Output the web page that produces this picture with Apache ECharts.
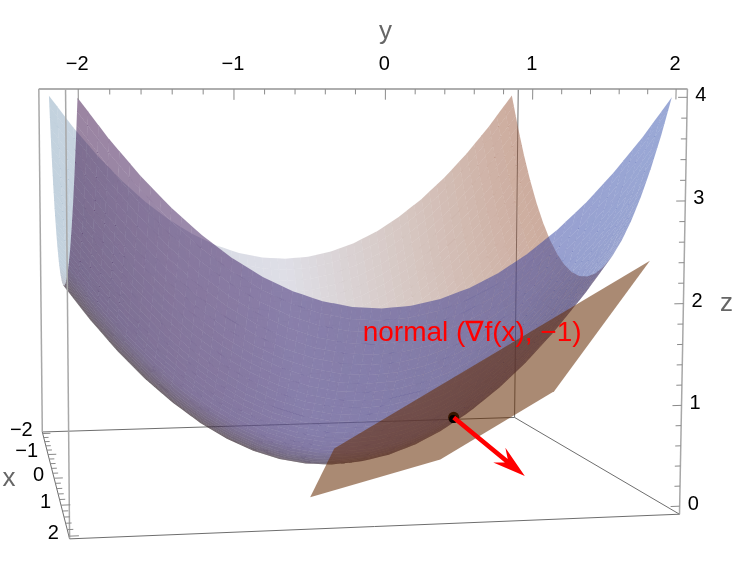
<!DOCTYPE html>
<html><head><meta charset="utf-8">
<style>html,body{margin:0;padding:0;background:#fff}#c{width:740px;height:564px}</style>
<script src="https://cdn.jsdelivr.net/npm/echarts@6/dist/echarts.min.js"></script>
</head><body><div id="c"></div>
<script>
// ---- data ----
const gridX = [-2,-1.8,-1.6,-1.4,-1.2,-1,-.8,-.6,-.4,-.2,0,.2,.4,.6,.8,1,1.2,1.4,1.6,1.8,2];
const gridY = gridX;
const r0  = [4,3.62,3.28,2.98,2.72,2.5,2.32,2.18,2.08,2.02,2,2.02,2.08,2.18,2.32,2.5,2.72,2.98,3.28,3.62,4];
const r1  = [3.62,3.24,2.9,2.6,2.34,2.12,1.94,1.8,1.7,1.64,1.62,1.64,1.7,1.8,1.94,2.12,2.34,2.6,2.9,3.24,3.62];
const r2  = [3.28,2.9,2.56,2.26,2,1.78,1.6,1.46,1.36,1.3,1.28,1.3,1.36,1.46,1.6,1.78,2,2.26,2.56,2.9,3.28];
const r3  = [2.98,2.6,2.26,1.96,1.7,1.48,1.3,1.16,1.06,1,.98,1,1.06,1.16,1.3,1.48,1.7,1.96,2.26,2.6,2.98];
const r4  = [2.72,2.34,2,1.7,1.44,1.22,1.04,.9,.8,.74,.72,.74,.8,.9,1.04,1.22,1.44,1.7,2,2.34,2.72];
const r5  = [2.5,2.12,1.78,1.48,1.22,1,.82,.68,.58,.52,.5,.52,.58,.68,.82,1,1.22,1.48,1.78,2.12,2.5];
const r6  = [2.32,1.94,1.6,1.3,1.04,.82,.64,.5,.4,.34,.32,.34,.4,.5,.64,.82,1.04,1.3,1.6,1.94,2.32];
const r7  = [2.18,1.8,1.46,1.16,.9,.68,.5,.36,.26,.2,.18,.2,.26,.36,.5,.68,.9,1.16,1.46,1.8,2.18];
const r8  = [2.08,1.7,1.36,1.06,.8,.58,.4,.26,.16,.1,.08,.1,.16,.26,.4,.58,.8,1.06,1.36,1.7,2.08];
const r9  = [2.02,1.64,1.3,1,.74,.52,.34,.2,.1,.04,.02,.04,.1,.2,.34,.52,.74,1,1.3,1.64,2.02];
const r10 = [2,1.62,1.28,.98,.72,.5,.32,.18,.08,.02,0,.02,.08,.18,.32,.5,.72,.98,1.28,1.62,2];
const surfaceZ = [r0,r1,r2,r3,r4,r5,r6,r7,r8,r9,r10,r9,r8,r7,r6,r5,r4,r3,r2,r1,r0];

const planeX = [1.9,1.9,-.3,-.3,.97];
const planeY = [-.3,1.9,1.9,.97,-.3];
const planeZ = [.64,2.4,.64,-.104,-.104];
const pointXYZ = [.8,.8,.64];
const arrowTip = [1.224,1.224,.11];

const xTicks = [-2,-1,0,1,2];
const yTicks = [-2,-1,0,1,2];
const zTicks = [0,1,2,3,4];
const tickLabels = {'-2':'\u22122','-1':'\u22121','0':'0','1':'1','2':'2','3':'3','4':'4'};
const minorStep = [0,.2,.4,.6,.8];
const noteText = 'normal (\u2207f(x), \u22121)';

// colours seen over white: rows at colorRowX; columns y=-2,-1,0,1,2
const colorRowX = [-2,-.6,.2,.8,2];
const innerLight = [[195,210,222],[215,220,230],[222,222,230],[215,200,195],[205,172,158]];
const innerShade = [[185,180,190],[195,185,190],[200,190,190],[195,175,170],[195,160,145]];
const innerColors = [innerLight,innerLight,innerShade,innerShade,innerShade];
const outerShade = [[140,128,132],[135,128,130],[132,128,135],[130,128,150],[135,135,165]];
const outerMid   = [[150,130,158],[150,135,170],[150,145,188],[145,150,195],[150,160,205]];
const outerRim   = [[155,133,162],[155,140,175],[152,150,195],[152,158,207],[155,170,215]];
const outerColors = [outerShade,outerShade,outerShade,outerMid,outerRim];
const surfaceAlpha = 0.5;
const planeFill = 'rgba(100,42,0,0.55)';

// ---- camera fitted to the box ----
const PAD = 2.08, camera = [15,-2.77,4.08];
function proj(x,y,z){
  const a=x/PAD,b=y/PAD,c=(z-2)/PAD;
  const w=1-.13263*a+.02468*b-.008505*c;
  return [(327.3+6*a+276.34*b-2.28*c)/w, 89+191.46*(1-c)/w];
}
function lerp(a,b,t){return a+(b-a)*t;}
function colorAt(tbl,x,y){
  let i=0; while(i<colorRowX.length-2&&x>colorRowX[i+1])i++;
  const s=Math.min(1,Math.max(0,(x-colorRowX[i])/(colorRowX[i+1]-colorRowX[i])));
  const v=Math.min(3.999,(y+2)),j=Math.floor(v),t=v-j,out=[];
  for(let k=0;k<3;k++){
    out.push(lerp(lerp(tbl[i][j][k],tbl[i][j+1][k],t),lerp(tbl[i+1][j][k],tbl[i+1][j+1][k],t),s));
  }
  return 'rgba('+out.map(c=>Math.max(0,Math.round((c-255*(1-surfaceAlpha))/surfaceAlpha))).join(',')+','+surfaceAlpha+')';
}
const SUB=3;
const innerCells=[],outerCells=[],cellFill={inner:[],outer:[]};
for(let i=0;i<gridX.length-1;i++)for(let j=0;j<gridY.length-1;j++){
  const dx=(gridX[i+1]-gridX[i])/SUB,dy=(gridY[j+1]-gridY[j])/SUB;
  const zAt=(s,t)=>lerp(lerp(surfaceZ[i][j],surfaceZ[i][j+1],t),lerp(surfaceZ[i+1][j],surfaceZ[i+1][j+1],t),s);
  for(let p=0;p<SUB;p++)for(let q=0;q<SUB;q++){
    const cs=[[p,q],[p+1,q],[p+1,q+1],[p,q+1]].map(([P,Q])=>{
      const X=gridX[i]+P*dx,Y=gridY[j]+Q*dy,Z=zAt(P/SUB,Q/SUB);
      return [X,Y,Z];
    });
    const cx=(cs[0][0]+cs[2][0])/2,cy=(cs[0][1]+cs[2][1])/2,cz=(cs[0][2]+cs[1][2]+cs[2][2]+cs[3][2])/4;
    const nx=((cs[1][2]+cs[2][2])-(cs[0][2]+cs[3][2]))/(2*dx);
    const ny=((cs[2][2]+cs[3][2])-(cs[0][2]+cs[1][2]))/(2*dy);
    const facing=nx*(camera[0]-cx)+ny*(camera[1]-cy)-(camera[2]-cz);
    const pts=cs.map(c=>proj(c[0],c[1],c[2]));
    const rec=[].concat(pts[0],pts[1],pts[2],pts[3]);
    if(facing>0){outerCells.push(rec);cellFill.outer.push(colorAt(outerColors,cx,cy));}
    else{innerCells.push(rec);cellFill.inner.push(colorAt(innerColors,cx,cy));}
  }
}
function cellSeries(data,fills,z){
  return {type:'custom',coordinateSystem:'cartesian2d',data,z,silent:true,animation:false,progressive:0,
    encode:{x:0,y:1},clip:false,
    renderItem(params,api){
      const P=[];for(let k=0;k<4;k++)P.push(api.coord([api.value(2*k),api.value(2*k+1)]));
      const mx=(P[0][0]+P[1][0]+P[2][0]+P[3][0])/4,my=(P[0][1]+P[1][1]+P[2][1]+P[3][1])/4;
      const G=0.03;
      const pts=P.map(p=>{const d=Math.hypot(p[0]-mx,p[1]-my)||1;return [p[0]+(p[0]-mx)/d*G,p[1]+(p[1]-my)/d*G];});
      return {type:'polygon',shape:{points:pts},style:{fill:fills[params.dataIndex],stroke:null}};
    }};
}
// ---- box and ticks ----
const L=PAD, B=2-PAD, T=2+PAD;
const backEdges=[[[-L,-L,B],[-L,L,B]],[[-L,L,B],[L,L,B]],[[-L,L,B],[-L,L,T]],[[-L,-L,B],[L,-L,B]]];
const lightEdges=[[[-L,-L,B],[-L,-L,T]],[[L,-L,B],[L,-L,T]],[[-L,-L,T],[L,-L,T]],[[L,-L,T],[L,L,T]],[[L,L,T],[L,L,B]],[[-L,L,T],[-L,-L,T]],[[-L,L,T],[L,L,T]]];
const frontEdges=[[[L,-L,B],[L,L,B]]];
function seg(a,b,w,col){const p=proj(a[0],a[1],a[2]),q=proj(b[0],b[1],b[2]);return [p[0],p[1],q[0],q[1],w,col];}
const backLines=backEdges.map(e=>seg(e[0],e[1],1,'#6e6e6e'));
const frontLines=lightEdges.map(e=>seg(e[0],e[1],1.5,'#a8a8a8')).concat(frontEdges.map(e=>seg(e[0],e[1],1,'#6e6e6e')));
yTicks.slice(0,4).forEach(t=>minorStep.forEach((m,k)=>frontLines.push(seg([L,t+m*1,T],[L,t+m*1,T-(k?.05:.1)],1,'#8a8a8a'))));
frontLines.push(seg([L,2,T],[L,2,T-.1],1,'#8a8a8a'));
xTicks.slice(0,4).forEach(t=>minorStep.forEach((m,k)=>frontLines.push(seg([t+m,-L,B],[t+m,-L+(k?.04:.065),B],1,'#8a8a8a'))));
frontLines.push(seg([2,-L,B],[2,-L+.065,B],1,'#8a8a8a'));
zTicks.slice(0,4).forEach(t=>minorStep.forEach((m,k)=>frontLines.push(seg([L,L,t+m],[L,L-(k?.04:.065),t+m],1,'#8a8a8a'))));
frontLines.push(seg([L,L,4],[L,L-.065,4],1,'#8a8a8a'));
function lineSeries(data,z){
  return {type:'custom',coordinateSystem:'cartesian2d',data,z,silent:true,animation:false,clip:false,encode:{x:0,y:1},
    renderItem(params,api){
      const a=api.coord([api.value(0),api.value(1)]),b=api.coord([api.value(2),api.value(3)]);
      const d=data[params.dataIndex];
      return {type:'line',shape:{x1:a[0],y1:a[1],x2:b[0],y2:b[1]},style:{stroke:d[5],lineWidth:d[4]}};
    }};
}
// ---- texts ----
const FONT='"Liberation Sans", Arial, sans-serif';
const texts=[];
function addText(p,dx,dy,s,size,col,align){texts.push([p[0]+dx,p[1]+dy,s,size,col,align]);}
yTicks.forEach(t=>addText(proj(L,t,T),-1,-25,tickLabels[t],20,'#000','center'));
zTicks.forEach(t=>addText(proj(L,L,t),8,-2,tickLabels[t],20,'#000','left'));
xTicks.forEach(t=>addText(proj(t,-L,B),-10,-3,tickLabels[t],20,'#000','right'));
addText(proj(L,0,T),0,-57,'y',26,'#666','center');
addText(proj(L,L,2),43,0,'z',26,'#666','center');
addText(proj(0,-L,B),-45,1,'x',26,'#666','center');
addText(proj(pointXYZ[0],pointXYZ[1],pointXYZ[2]),-91,-84,noteText,28,'#ff0000','left');
const textSeries={type:'custom',coordinateSystem:'cartesian2d',data:texts,z:9,silent:true,animation:false,clip:false,encode:{x:0,y:1},
  renderItem(params,api){
    const d=texts[params.dataIndex],p=api.coord([d[0],d[1]]);
    return {type:'text',x:p[0],y:p[1],style:{text:d[2],font:d[3]+'px '+FONT,fill:d[4],align:d[5],verticalAlign:'middle'}};
  }};
// ---- plane ----
const planePts=planeX.map((x,i)=>proj(x,planeY[i],planeZ[i]));
const planeSeries={type:'custom',coordinateSystem:'cartesian2d',data:[[planePts[0][0],planePts[0][1]]],z:6,silent:true,animation:false,clip:false,encode:{x:0,y:1},
  renderItem(params,api){
    return {type:'polygon',shape:{points:planePts.map(p=>api.coord(p))},style:{fill:planeFill}};
  }};
// ---- point and arrow ----
const ptPix=proj(pointXYZ[0],pointXYZ[1],pointXYZ[2]);
const tipPix=proj(arrowTip[0],arrowTip[1],arrowTip[2]);
const dotSeries={type:'custom',coordinateSystem:'cartesian2d',data:[ptPix],z:5,silent:true,animation:false,clip:false,encode:{x:0,y:1},
  renderItem(params,api){const c=api.coord(ptPix);return {type:'circle',shape:{cx:c[0],cy:c[1],r:5.6},style:{fill:'#000'}};}};
const dotTopSeries={type:'custom',coordinateSystem:'cartesian2d',data:[ptPix],z:7,silent:true,animation:false,clip:false,encode:{x:0,y:1},
  renderItem(params,api){const c=api.coord(ptPix);return {type:'circle',shape:{cx:c[0]-.5,cy:c[1]+1.5,r:4},style:{fill:'#000'}};}};
const arrowSeries={type:'custom',coordinateSystem:'cartesian2d',data:[ptPix],z:8,silent:true,animation:false,clip:false,encode:{x:0,y:1},
  renderItem(params,api){
    const a=api.coord(ptPix),t=api.coord(tipPix);
    const dx=t[0]-a[0],dy=t[1]-a[1],n=Math.hypot(dx,dy),ux=dx/n,uy=dy/n,vx=-uy,vy=ux;
    const at=(al,pe)=>[t[0]+ux*al+vx*pe,t[1]+uy*al+vy*pe];
    const h=2.3,s=[a[0]+vx*h,a[1]+vy*h],s2=[a[0]-vx*h,a[1]-vy*h];
    return {type:'polygon',shape:{points:[s,at(-24,h),at(-33,9.5),t,at(-33,-9.5),at(-24,-h),s2]},style:{fill:'#ff0000'}};
  }};

const chart=echarts.init(document.getElementById('c'),null,{renderer:'canvas',width:740,height:564});
chart.setOption({
  backgroundColor:'#fff',animation:false,
  grid:{left:0,top:0,right:0,bottom:0,containLabel:false},
  xAxis:{type:'value',min:0,max:740,show:false},
  yAxis:{type:'value',min:0,max:564,inverse:true,show:false},
  series:[
    lineSeries(backLines,1),
    cellSeries(innerCells,cellFill.inner,2),
    cellSeries(outerCells,cellFill.outer,3),
    lineSeries(frontLines,4),
    dotSeries,planeSeries,dotTopSeries,arrowSeries,textSeries
  ]
});
</script></body></html>
